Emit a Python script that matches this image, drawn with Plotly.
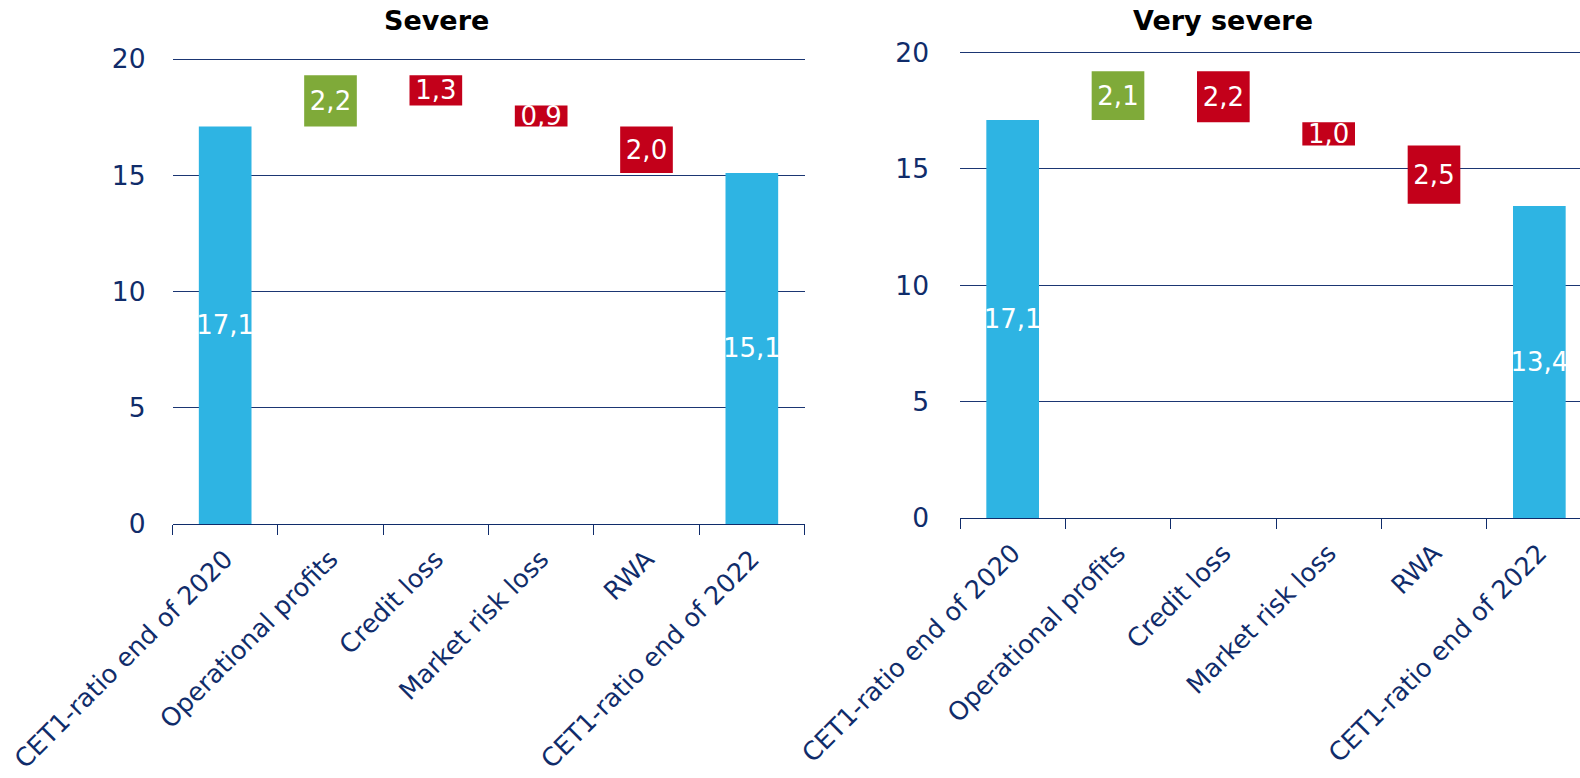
import plotly.graph_objects as go

# Waterfall inputs (CET1 ratio, per cent)
categories = [
    "CET1-ratio end of 2020",
    "Operational profits",
    "Credit loss",
    "Market risk loss",
    "RWA",
    "CET1-ratio end of 2022",
]
measures = ["absolute", "relative", "relative", "relative", "relative", "absolute"]
severe_values = [17.1, 2.2, -1.3, -0.9, -2.0, 15.1]
very_severe_values = [17.1, 2.1, -2.2, -1.0, -2.5, 13.4]
y_ticks = [0, 5, 10, 15, 20]
panel_titles = ["Severe", "Very severe"]

NAVY = "#102C6A"
GRID = "#1B3673"
BLUE = "#2EB4E3"
GREEN = "#7FAA39"
RED = "#C3001A"
FONT = "DejaVu Sans"

W, H = 1580, 778
Y_TOP = 20.3  # headroom above 20 so the top gridline is drawn


def fmt(v):
    return f"{abs(v):.1f}".replace(".", ",")


def waterfall(values, xa, ya):
    return go.Waterfall(
        x=categories,
        y=values,
        measure=measures,
        text=[fmt(v) for v in values],
        textposition="inside",
        insidetextanchor="middle",
        constraintext="none",
        textangle=0,
        insidetextfont=dict(family=FONT, size=26, color="white"),
        width=0.5,
        increasing=dict(marker=dict(color=GREEN)),
        decreasing=dict(marker=dict(color=RED)),
        totals=dict(marker=dict(color=BLUE)),
        connector=dict(visible=False),
        showlegend=False,
        hoverinfo="x+y",
        xaxis=xa,
        yaxis=ya,
    )


fig = go.Figure()
fig.add_trace(waterfall(severe_values, "x", "y"))
fig.add_trace(waterfall(very_severe_values, "x2", "y2"))

xaxis_common = dict(
    type="category",
    automargin=False,
    showgrid=False,
    showline=True,
    linecolor=NAVY,
    linewidth=1,
    ticks="outside",
    tickson="boundaries",
    ticklen=10,
    tickcolor=NAVY,
    tickwidth=1,
    tickangle=-45,
    ticklabelstandoff=9,
    tickfont=dict(family=FONT, size=25.5, color=NAVY),
    fixedrange=True,
)
yaxis_common = dict(
    automargin=False,
    range=[0, Y_TOP],
    tickvals=y_ticks,
    showgrid=True,
    gridcolor=GRID,
    gridwidth=1,
    zeroline=False,
    showline=False,
    ticks="",
    tickfont=dict(family=FONT, size=26.5, color=NAVY),
    fixedrange=True,
)

# plot-area edges in pixels
L1, R1, T1, B1 = 172.5, 804.5, 59, 524
L2, T2, B2 = 960, 52.5, 518
px_per_unit = (B1 - T1) / 20
extra = (Y_TOP - 20) * px_per_unit
cat_w = (R1 - L1) / 6
right_end = 5.5 - (L2 + 6 * cat_w - W) / cat_w

fig.update_layout(
    template="none",
    width=W,
    height=H,
    margin=dict(l=0, r=0, t=0, b=0, autoexpand=False),
    paper_bgcolor="white",
    plot_bgcolor="white",
    font=dict(family=FONT, color=NAVY),
    xaxis=dict(xaxis_common, domain=[L1 / W, R1 / W], range=[-0.5, 5.5], anchor="y"),
    yaxis=dict(yaxis_common, domain=[(H - B1) / H, (H - T1 + extra) / H], anchor="x",
               ticklabelstandoff=26),
    xaxis2=dict(xaxis_common, domain=[L2 / W, 1.0], range=[-0.5, right_end], anchor="y2"),
    yaxis2=dict(yaxis_common, domain=[(H - B2) / H, (H - T2 + extra) / H], anchor="x2",
                ticklabelstandoff=30),
    annotations=[
        dict(text=f"<b>{panel_titles[0]}</b>", x=436.7 / W, y=(H - 20) / H,
             xref="paper", yref="paper", xanchor="center", yanchor="middle",
             showarrow=False, font=dict(family=FONT, size=27, color="black")),
        dict(text=f"<b>{panel_titles[1]}</b>", x=1223 / W, y=(H - 20) / H,
             xref="paper", yref="paper", xanchor="center", yanchor="middle",
             showarrow=False, font=dict(family=FONT, size=27, color="black")),
    ],
)

fig.write_html("out.html")
